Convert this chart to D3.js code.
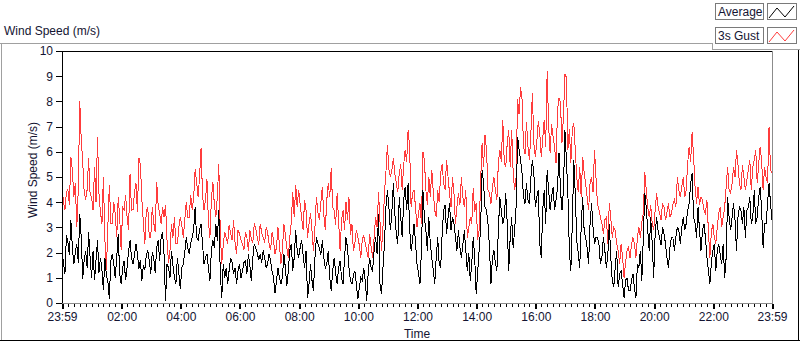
<!DOCTYPE html>
<html>
<head>
<meta charset="utf-8">
<script src="https://cdn.jsdelivr.net/npm/d3@7"></script>
<style>
  html, body { margin: 0; padding: 0; background: #fff; }
  svg { display: block; }
  text { font-family: "Liberation Sans", Arial, sans-serif; font-size: 12px; fill: #141432; }
</style>
</head>
<body>
<svg id="chart" width="800" height="342"></svg>
<script>
// ---- data (3-minute samples from 23:59 to 23:59 next day) ----
const stepMinutes = 3;
const seriesNames = ["Average", "3s Gust"];
const yTickValues = [0, 1, 2, 3, 4, 5, 6, 7, 8, 9, 10];
const xTickLabels = ["23:59", "02:00", "04:00", "06:00", "08:00", "10:00", "12:00", "14:00", "16:00", "18:00", "20:00", "22:00", "23:59"];

const gust = [
4.6,4.0,3.7,4.4,4.5,3.9,5.8,5.3,4.2,4.75,3.0,4.5,8.0,6.5,5.6,4.4,4.1,4.5,5.75,4.3,
4.2,3.68,5.4,4.0,6.6,4.35,3.6,3.15,5.0,2.5,1.3,3.0,4.7,3.15,3.15,4.0,3.55,2.6,4.2,3.4,
2.1,3.8,3.7,4.3,3.4,2.9,5.1,3.68,3.7,4.4,4.75,3.6,5.75,5.5,4.1,3.2,2.35,3.68,3.8,2.6,
2.6,3.8,3.2,2.8,4.8,3.9,3.55,3.15,3.8,3.4,3.9,2.5,1.6,2.08,3.15,2.6,3.4,2.35,2.35,3.0,
3.4,3.1,2.6,3.3,4.0,3.4,3.4,4.3,3.7,4.15,5.3,4.8,4.2,5.0,6.15,4.3,3.7,4.08,4.9,3.2,
2.6,4.1,4.8,3.9,3.4,4.2,5.5,2.8,1.55,2.3,2.8,2.6,2.35,3.1,2.75,2.5,3.28,2.4,1.95,2.9,
2.75,2.5,2.35,2.1,2.8,2.6,2.08,2.9,2.55,2.4,3.15,2.95,2.6,2.3,3.15,2.8,2.6,2.4,3.0,2.8,
2.35,2.1,2.8,2.5,1.95,2.2,3.0,2.3,1.55,2.08,3.15,2.7,2.2,1.8,2.6,3.2,4.4,3.4,4.7,3.8,
4.5,3.9,3.4,2.9,4.08,3.68,2.6,3.15,3.55,2.88,2.08,3.0,4.2,3.6,3.28,4.0,4.6,3.5,2.88,4.08,
4.75,4.2,5.35,3.8,3.68,3.1,4.35,3.28,2.08,3.28,3.68,2.9,4.0,3.3,4.2,2.7,3.15,2.08,2.35,2.9,
2.6,2.3,1.8,2.5,2.7,2.35,2.08,1.8,2.75,2.2,1.8,2.6,3.4,3.0,4.4,3.2,2.08,3.0,4.35,5.2,
6.28,5.3,5.0,5.28,5.75,5.15,4.75,4.4,5.15,5.5,4.48,5.48,6.08,5.6,6.88,6.2,3.8,4.35,4.48,3.8,
3.0,3.55,3.95,3.15,6.0,5.68,4.48,3.9,5.0,4.2,5.28,4.4,3.68,3.4,4.48,4.0,5.15,5.5,4.75,4.5,
5.68,5.0,4.35,3.8,5.0,4.35,3.15,3.8,4.35,3.9,5.0,4.2,3.8,4.48,2.6,3.0,3.4,3.15,4.55,3.6,
3.95,2.5,2.9,4.8,6.35,5.4,6.68,6.08,4.48,4.35,3.95,4.6,5.0,4.48,4.08,5.55,6.08,5.6,7.28,5.55,
5.4,6.35,6.88,5.4,6.88,5.2,4.48,5.0,8.08,7.5,8.55,8.08,6.2,5.9,7.2,6.2,5.68,6.75,8.35,6.35,
5.8,6.4,7.2,6.75,5.8,6.5,7.28,6.2,9.2,7.0,5.95,7.1,6.6,6.2,5.55,7.68,8.15,7.95,6.35,7.4,
9.08,8.95,6.08,6.9,5.55,6.88,7.15,6.08,5.0,4.4,5.4,4.2,5.8,5.2,4.75,4.2,3.68,4.75,5.0,4.4,
6.08,5.0,3.95,3.7,3.4,3.15,2.75,3.3,3.4,2.35,3.95,3.4,2.6,3.0,2.88,2.35,2.08,1.55,2.35,1.8,
1.0,1.6,2.08,2.2,1.8,2.3,2.6,2.35,1.8,2.6,3.0,2.6,3.2,3.55,5.2,4.48,3.8,3.4,3.9,3.15,
2.88,3.7,4.35,3.8,3.55,3.3,3.95,3.8,3.28,3.6,3.95,3.4,3.55,3.9,4.08,3.8,5.0,4.48,4.2,4.6,
5.0,4.2,4.48,5.55,6.2,5.6,6.8,5.8,4.6,3.95,4.6,3.9,4.2,4.08,3.68,3.55,4.08,2.88,1.8,2.8,
3.15,2.6,2.35,3.0,3.55,3.8,3.0,3.4,3.8,4.6,5.4,4.48,4.35,4.75,5.4,5.0,6.08,5.48,4.75,4.48,
5.48,5.0,4.48,4.88,5.28,5.68,4.48,5.4,5.68,6.08,4.75,5.5,6.2,5.6,4.48,5.4,5.0,4.75,7.0,5.28,
5.15
];

const average = [
2.0,1.6,1.15,2.7,2.4,1.9,3.28,2.2,1.55,2.0,2.35,1.6,3.55,2.6,0.95,1.7,2.08,1.4,2.8,1.8,
1.0,2.08,0.9,1.7,2.48,1.2,1.8,1.3,0.5,1.8,1.1,0.88,0.15,1.68,1.95,1.55,1.0,1.8,2.75,1.15,
0.75,1.4,1.68,0.9,1.4,2.08,2.48,1.8,1.55,1.9,2.35,1.95,1.35,1.7,0.88,1.5,1.3,1.9,2.08,1.68,
1.15,2.0,1.8,1.2,2.2,2.48,1.68,2.6,2.8,1.9,0.08,1.55,1.4,1.0,2.08,1.5,1.0,0.75,1.8,1.2,
0.55,1.4,1.55,2.0,2.6,2.2,1.95,2.35,2.6,2.9,3.8,2.6,2.48,2.88,3.15,2.35,1.55,1.8,1.95,1.4,
0.88,2.08,2.48,2.2,3.15,2.48,3.7,1.2,0.2,1.55,1.0,1.4,0.75,1.3,1.8,1.6,1.15,1.4,0.75,1.28,
1.55,1.0,1.28,1.6,1.68,1.15,1.95,1.5,0.88,1.8,2.35,2.15,2.0,1.7,1.95,1.6,2.08,1.8,1.4,1.55,
1.95,1.68,1.28,1.0,0.4,0.88,1.4,1.0,0.75,1.0,1.95,1.4,0.68,1.28,2.08,2.35,1.28,1.8,2.88,2.08,
1.8,2.2,2.48,1.9,1.4,2.08,0.2,0.75,1.55,0.9,0.48,1.8,2.6,2.35,2.2,1.9,2.48,1.8,1.4,1.55,
2.08,1.0,0.48,1.28,1.8,1.2,0.75,1.4,1.68,1.0,0.75,1.8,2.6,2.2,1.4,0.9,0.75,1.1,1.28,0.75,
0.15,0.62,1.0,0.9,1.4,0.88,0.08,1.2,1.8,1.4,1.28,2.08,2.6,1.95,3.55,0.75,0.35,1.4,2.35,3.8,
4.48,3.8,2.88,3.6,4.75,3.55,2.75,2.35,4.2,3.4,2.6,4.08,4.6,3.68,4.75,3.0,2.08,2.48,3.15,2.4,
1.55,1.2,0.75,2.08,4.48,3.4,2.88,2.08,3.4,2.35,1.8,1.3,0.75,1.8,2.6,1.55,1.4,2.75,3.68,3.9,
2.75,3.4,3.95,2.9,3.4,3.15,2.6,2.08,2.88,2.2,1.8,2.3,2.88,2.08,1.28,2.0,0.88,1.55,2.6,1.8,
0.35,1.2,2.08,3.0,5.28,4.75,3.8,3.68,3.15,2.2,0.75,1.8,2.08,1.6,1.28,2.88,4.2,3.68,3.15,3.4,
4.35,3.15,1.28,2.6,3.4,2.2,2.88,3.8,6.6,6.08,5.68,5.15,4.2,3.95,4.75,4.08,3.95,5.0,5.68,5.15,
3.8,4.2,4.48,2.35,1.8,3.68,4.48,3.15,5.28,4.48,3.68,4.2,4.6,3.7,4.08,4.6,5.95,4.48,3.68,4.48,
6.88,5.68,4.35,2.08,1.28,3.15,5.68,4.35,2.48,2.0,1.4,3.0,4.2,2.88,2.6,2.2,1.55,3.15,3.95,3.0,
2.35,2.6,2.6,2.35,1.55,1.8,2.6,2.08,1.4,1.9,3.15,1.8,0.88,0.62,1.4,2.08,0.62,1.15,1.28,0.75,
0.2,0.9,1.0,0.48,0.48,0.88,1.15,0.6,0.2,1.55,1.4,2.08,0.88,2.6,4.35,3.8,2.88,2.08,3.4,2.4,
1.0,2.75,3.4,2.88,2.6,2.3,3.0,2.75,2.35,1.8,1.4,2.2,2.6,2.6,2.08,2.6,3.0,2.9,2.35,3.0,
3.4,2.9,3.15,3.68,3.95,4.75,5.15,3.4,3.15,2.6,3.8,2.88,2.08,2.88,3.15,2.6,1.8,1.3,0.75,1.6,
2.08,2.35,1.28,2.08,2.35,1.9,1.55,2.35,1.0,1.8,4.2,3.4,2.88,3.4,3.95,3.3,2.08,3.4,3.8,3.68,
3.15,3.8,2.6,3.68,3.8,4.2,3.15,3.4,4.48,3.15,3.4,4.2,4.6,3.68,2.2,3.15,3.15,3.95,4.75,3.95,
3.28
];

// ---- layout ----
const svg = d3.select("#chart");
const plot = { left: 62, right: 772, top: 51, bottom: 303 };

const start = new Date(2020, 0, 1, 23, 59);
const end = new Date(start.getTime() + 24 * 3600 * 1000);
const timeOf = i => new Date(start.getTime() + i * stepMinutes * 60000);

const x = d3.scaleTime().domain([start, end]).range([plot.left, plot.right]);
const y = d3.scaleLinear().domain([0, 10]).range([plot.bottom, plot.top]);

// outer frame (3D style)
const frame = svg.append("g").attr("shape-rendering", "crispEdges");
frame.append("line").attr("x1", 0).attr("x2", 712).attr("y1", 43.5).attr("y2", 43.5).attr("stroke", "#a0a0a0");
frame.append("line").attr("x1", 712.5).attr("x2", 712.5).attr("y1", 43).attr("y2", 49).attr("stroke", "#a0a0a0");
frame.append("line").attr("x1", 712).attr("x2", 800).attr("y1", 49.5).attr("y2", 49.5).attr("stroke", "#a0a0a0");
frame.append("line").attr("x1", 1.5).attr("x2", 1.5).attr("y1", 43).attr("y2", 341).attr("stroke", "#a0a0a0");
frame.append("line").attr("x1", 0).attr("x2", 800).attr("y1", 340.5).attr("y2", 340.5).attr("stroke", "#000");
frame.append("line").attr("x1", 798.5).attr("x2", 798.5).attr("y1", 50).attr("y2", 341).attr("stroke", "#000");

// title
svg.append("text").attr("x", 4).attr("y", 35).text("Wind Speed (m/s)");

// legend
const legend = svg.append("g");
const legendItems = [
  { name: seriesNames[0], color: "#000000", y0: 3 },
  { name: seriesNames[1], color: "#ff3c3c", y0: 27 }
];
legendItems.forEach(item => {
  const g = legend.append("g").attr("shape-rendering", "crispEdges");
  g.append("rect").attr("x", 715.5).attr("y", item.y0 + 0.5).attr("width", 48).attr("height", 16)
    .attr("fill", "#fff").attr("stroke", "#7a7a7a");
  g.append("rect").attr("x", 767.5).attr("y", item.y0 + 0.5).attr("width", 29).attr("height", 16)
    .attr("fill", "#fff").attr("stroke", "#7a7a7a");
  legend.append("text").attr("x", 718).attr("y", item.y0 + 13).text(item.name);
  legend.append("polyline")
    .attr("points", [[769, item.y0 + 15], [777, item.y0 + 5], [785, item.y0 + 14], [794, item.y0 + 3]].map(p => p.join(",")).join(" "))
    .attr("fill", "none").attr("stroke", item.color).attr("stroke-width", 1);
});

// plot border
const border = svg.append("g").attr("shape-rendering", "crispEdges");
border.append("line").attr("x1", plot.left).attr("x2", plot.right + 1).attr("y1", plot.top + 0.5).attr("y2", plot.top + 0.5).attr("stroke", "#000");
border.append("line").attr("x1", plot.left + 0.5).attr("x2", plot.left + 0.5).attr("y1", plot.top).attr("y2", plot.bottom + 1).attr("stroke", "#000");
border.append("line").attr("x1", plot.right + 0.5).attr("x2", plot.right + 0.5).attr("y1", plot.top).attr("y2", plot.bottom + 1).attr("stroke", "#8c8c8c");
border.append("line").attr("x1", plot.left).attr("x2", plot.right + 1).attr("y1", plot.bottom + 0.5).attr("y2", plot.bottom + 0.5).attr("stroke", "#8c8c8c");

// y axis
const yAxis = d3.axisLeft(y).tickValues(yTickValues).tickSize(6).tickPadding(3).tickFormat(d3.format("d"));
const yg = svg.append("g").attr("transform", `translate(${plot.left},0)`).call(yAxis);
yg.select(".domain").remove();
yg.selectAll(".tick line").attr("stroke", "#000").attr("shape-rendering", "crispEdges");
yg.selectAll(".tick text").attr("font-size", 12).attr("font-family", null).attr("fill", "#141432");

// x axis - minor ticks every 12 minutes
const minorTicks = d3.range(0, 24 * 60 + 1, 12).map(m => new Date(start.getTime() + m * 60000));
const xMinor = d3.axisBottom(x).tickValues(minorTicks).tickSize(3).tickFormat("");
const xmg = svg.append("g").attr("transform", `translate(0,${plot.bottom + 1})`).call(xMinor);
xmg.select(".domain").remove();
xmg.selectAll(".tick line").attr("stroke", "#000").attr("shape-rendering", "crispEdges");

// x axis - major ticks
const parseHM = d3.timeParse("%H:%M");
const majorTicks = xTickLabels.map((lab, k) => {
  if (k === 0) return start;
  if (k === xTickLabels.length - 1) return end;
  const t = parseHM(lab);
  return new Date(2020, 0, 2, t.getHours(), t.getMinutes());
});
const xAxis = d3.axisBottom(x).tickValues(majorTicks).tickSize(5).tickPadding(3)
  .tickFormat((d, k) => xTickLabels[k]);
const xg = svg.append("g").attr("transform", `translate(0,${plot.bottom + 1})`).call(xAxis);
xg.select(".domain").remove();
xg.selectAll(".tick line").attr("stroke", "#000").attr("stroke-width", 2).attr("shape-rendering", "crispEdges");
xg.selectAll(".tick text").attr("font-size", 12).attr("font-family", null).attr("fill", "#141432");

// axis titles
svg.append("text").attr("x", (plot.left + plot.right) / 2).attr("y", 338).attr("text-anchor", "middle").text("Time");
svg.append("text").attr("transform", `translate(37,170) rotate(-90)`).attr("text-anchor", "middle").text("Wind Speed (m/s)");

// series
const line = d3.line().x((d, i) => x(timeOf(i))).y(d => y(d));
svg.append("clipPath").attr("id", "clip").append("rect")
  .attr("x", plot.left + 1).attr("y", plot.top + 1).attr("width", plot.right - plot.left - 1).attr("height", plot.bottom - plot.top - 1);
const series = svg.append("g").attr("clip-path", "url(#clip)").attr("shape-rendering", "crispEdges");
series.append("path").datum(gust).attr("d", line).attr("fill", "none").attr("stroke", "#ff3c3c").attr("stroke-width", 1);
series.append("path").datum(average).attr("d", line).attr("fill", "none").attr("stroke", "#000").attr("stroke-width", 1);
</script>
</body>
</html>
